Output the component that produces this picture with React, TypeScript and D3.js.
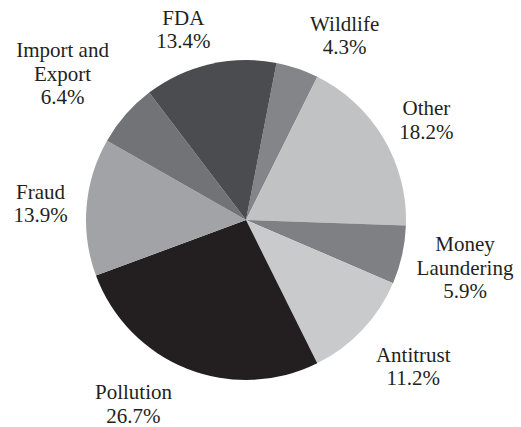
import React from "react";
import * as d3 from "d3";

// Share of cases by category, listed clockwise
const categories = ["Wildlife", "Other", "Money\nLaundering", "Antitrust", "Pollution", "Fraud", "Import and\nExport", "FDA"];
const shares = [4.3, 18.2, 5.9, 11.2, 26.7, 13.9, 6.4, 13.4];

// Fill for each slice, same order as categories
const fills = ["#848588", "#c1c2c4", "#7f8084", "#c9cacc", "#231f20", "#a2a3a6", "#727376", "#4b4c4f"];

// Fine adjustments of each label block relative to its outer anchor point
const labelNudge: [number, number][] = [
  [29.6, 19], [-4.3, 10], [9.2, 1], [11, -1.4], [-33.3, -16], [8.8, 1.3], [-21.8, -4.3], [-13.9, 19],
];

const W = 521;
const H = 427;
const cx = 246;
const cy = 220;
const radius = 160;
const labelRadius = 215;
const fontSize = 21;
const lineHeight = 23.5;
const startDeg = 11;

type Row = { name: string; value: number; fill: string };

export default function App() {
  const rows: Row[] = categories.map((c, i) => ({ name: c, value: shares[i], fill: fills[i] }));
  const start = (startDeg * Math.PI) / 180;
  const pie = d3
    .pie<Row>()
    .value((d) => d.value)
    .sort(null)
    .startAngle(start)
    .endAngle(start + 2 * Math.PI);
  const arcs = pie(rows);
  const arcGen = d3.arc<d3.PieArcDatum<Row>>().innerRadius(0).outerRadius(radius);
  const labelArc = d3.arc<d3.PieArcDatum<Row>>().innerRadius(labelRadius).outerRadius(labelRadius);

  return (
    <svg
      width={W}
      height={H}
      viewBox={`0 0 ${W} ${H}`}
      style={{ position: "absolute", left: 0, top: 0, background: "#ffffff" }}
    >
      <g transform={`translate(${cx},${cy})`}>
        {arcs.map((a, i) => (
          <path key={i} d={arcGen(a) || ""} fill={a.data.fill} />
        ))}
      </g>
      <g
        transform={`translate(${cx},${cy})`}
        style={{ fontFamily: '"Liberation Serif", "DejaVu Serif", serif', fontSize: `${fontSize}px` }}
        fill="#231f20"
        textAnchor="middle"
      >
        {arcs.map((a, i) => {
          const [lx, ly] = labelArc.centroid(a);
          const lines = [...a.data.name.split("\n"), `${a.data.value.toFixed(1)}%`];
          const x = lx + labelNudge[i][0];
          const yMid = ly + labelNudge[i][1];
          const firstBaseline = yMid + 7 - ((lines.length - 1) * lineHeight) / 2;
          return (
            <text key={i} x={x} y={firstBaseline}>
              {lines.map((t, j) => (
                <tspan key={j} x={x} y={firstBaseline + j * lineHeight}>
                  {t}
                </tspan>
              ))}
            </text>
          );
        })}
      </g>
    </svg>
  );
}
